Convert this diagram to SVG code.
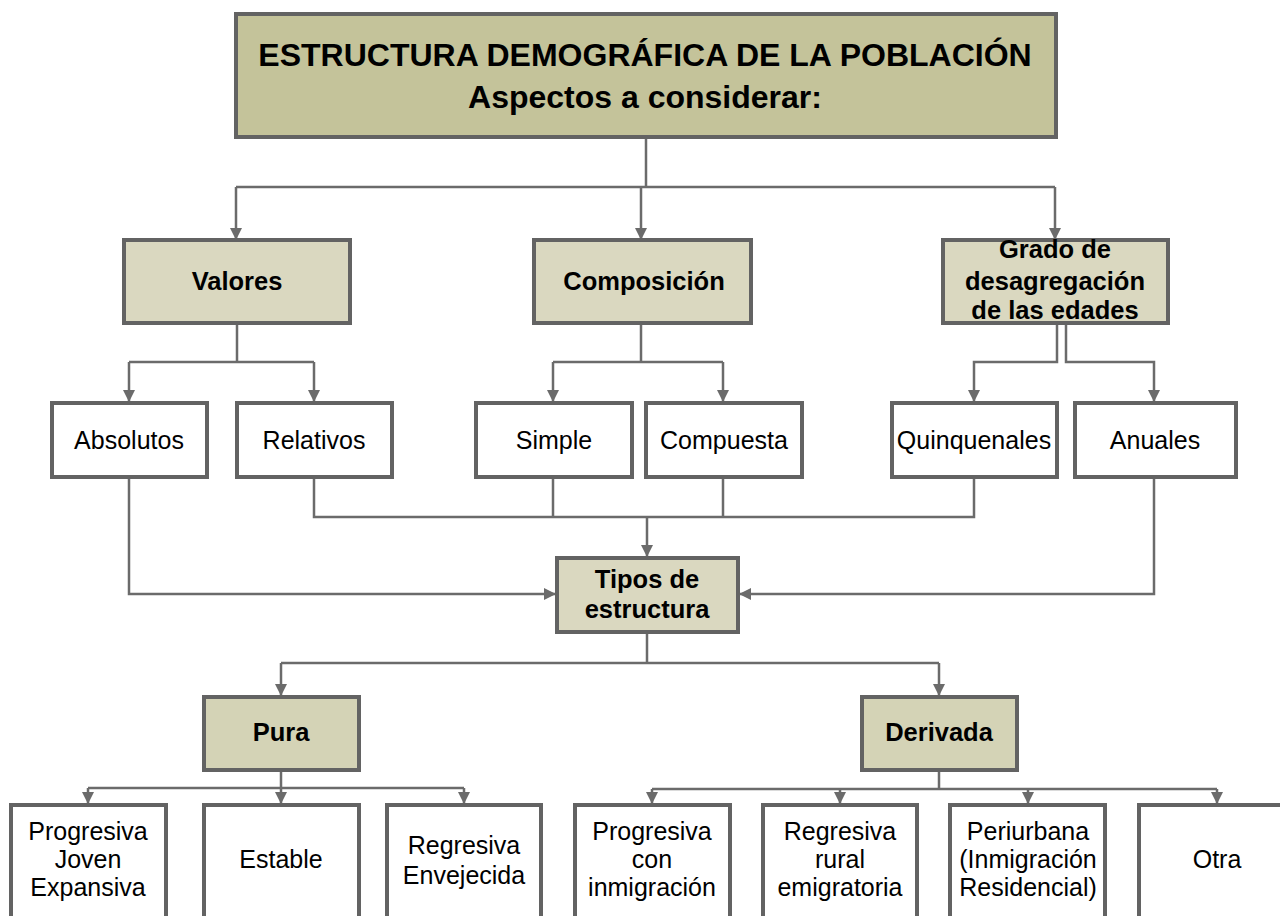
<svg xmlns="http://www.w3.org/2000/svg" width="1280" height="916" viewBox="0 0 1280 916">
<style>
  text { font-family: "Liberation Sans", Arial, sans-serif; fill: #000; text-anchor: middle; }
  .b { font-weight: bold; font-size: 25.5px; }
  .t { font-weight: bold; font-size: 32px; }
  .r { font-size: 25px; }
  .box { fill: #ffffff; stroke: #636363; stroke-width: 4; }
  .hdr { fill: #c4c39a; stroke: #636363; stroke-width: 4; }
  .lvl { fill: #dad8c0; stroke: #636363; stroke-width: 4; }
  .lvl2 { fill: #d4d3b6; stroke: #636363; stroke-width: 4; }
  .c { fill: none; stroke: #6b6b6b; stroke-width: 2.5; }
  .a { marker-end: url(#arr); }
</style>
<defs>
  <marker id="arr" markerUnits="userSpaceOnUse" markerWidth="12" markerHeight="12" refX="11" refY="6" orient="auto">
    <path d="M0,0 L12,6 L0,12 z" fill="#6b6b6b"/>
  </marker>
</defs>
<rect width="1280" height="916" fill="#ffffff"/>

<g id="connectors">
  <path class="c" d="M646,137 V187"/>
  <path class="c" d="M236,187 H1055"/>
  <path class="c a" d="M236,187 V239"/>
  <path class="c a" d="M641,187 V239"/>
  <path class="c a" d="M1055,187 V239"/>

  <path class="c" d="M237,323 V362"/>
  <path class="c a" d="M129,362 V401"/>
  <path class="c a" d="M314,362 V401"/>
  <path class="c" d="M129,362 H314"/>

  <path class="c" d="M641,323 V362"/>
  <path class="c" d="M553,362 H723"/>
  <path class="c a" d="M553,362 V401"/>
  <path class="c a" d="M723,362 V401"/>

  <path class="c a" d="M1057,323 V362 H974 V401"/>
  <path class="c a" d="M1066,323 V362 H1154 V401"/>

  <path class="c" d="M314,477 V517 H974 V477"/>
  <path class="c" d="M553,477 V517"/>
  <path class="c" d="M723,477 V517"/>
  <path class="c a" d="M647,517 V556"/>

  <path class="c a" d="M129,477 V594 H555"/>
  <path class="c a" d="M1154,477 V594 H740"/>

  <path class="c" d="M647,632 V663"/>
  <path class="c" d="M281,663 H939"/>
  <path class="c a" d="M281,663 V695"/>
  <path class="c a" d="M939,663 V695"/>

  <path class="c" d="M281,770 V788"/>
  <path class="c" d="M88,788 H464"/>
  <path class="c a" d="M88,788 V803"/>
  <path class="c a" d="M281,788 V803"/>
  <path class="c a" d="M464,788 V803"/>

  <path class="c" d="M939,770 V789"/>
  <path class="c" d="M652,789 H1217"/>
  <path class="c a" d="M652,789 V803"/>
  <path class="c a" d="M840,789 V803"/>
  <path class="c a" d="M1028,789 V803"/>
  <path class="c a" d="M1217,789 V803"/>
</g>

<g id="title">
  <rect class="hdr" x="236" y="14" width="820" height="123"/>
  <text class="t" x="645" y="66">ESTRUCTURA DEMOGRÁFICA DE LA POBLACIÓN</text>
  <text class="t" x="645" y="108">Aspectos a considerar:</text>
</g>

<g id="valores">
  <rect class="lvl" x="124" y="240" width="226" height="83"/>
  <text class="b" x="237" y="290">Valores</text>
</g>
<g id="composicion">
  <rect class="lvl" x="534" y="240" width="217" height="83"/>
  <text class="b" x="644" y="290">Composición</text>
</g>
<g id="grado">
  <rect class="lvl" x="943" y="240" width="225" height="83"/>
  <text class="b" x="1055" y="258">Grado de</text>
  <text class="b" x="1055" y="290">desagregación</text>
  <text class="b" x="1055" y="319">de las edades</text>
</g>

<g id="absolutos">
  <rect class="box" x="52" y="403" width="155" height="74"/>
  <text class="r" x="129" y="449">Absolutos</text>
</g>
<g id="relativos">
  <rect class="box" x="237" y="403" width="155" height="74"/>
  <text class="r" x="314" y="449">Relativos</text>
</g>
<g id="simple">
  <rect class="box" x="476" y="403" width="156" height="74"/>
  <text class="r" x="554" y="449">Simple</text>
</g>
<g id="compuesta">
  <rect class="box" x="646" y="403" width="156" height="74"/>
  <text class="r" x="724" y="449">Compuesta</text>
</g>
<g id="quinquenales">
  <rect class="box" x="892" y="403" width="165" height="74"/>
  <text class="r" x="974" y="449">Quinquenales</text>
</g>
<g id="anuales">
  <rect class="box" x="1075" y="403" width="161" height="74"/>
  <text class="r" x="1155" y="449">Anuales</text>
</g>

<g id="tipos">
  <rect class="lvl" x="557" y="558" width="181" height="74"/>
  <text class="b" x="647" y="588">Tipos de</text>
  <text class="b" x="647" y="618">estructura</text>
</g>

<g id="pura">
  <rect class="lvl2" x="204" y="697" width="155" height="73"/>
  <text class="b" x="281" y="741">Pura</text>
</g>
<g id="derivada">
  <rect class="lvl2" x="862" y="697" width="155" height="73"/>
  <text class="b" x="939" y="741">Derivada</text>
</g>

<g id="progresiva-joven">
  <rect class="box" x="11" y="805" width="155" height="125"/>
  <text class="r" x="88" y="840">Progresiva</text>
  <text class="r" x="88" y="868">Joven</text>
  <text class="r" x="88" y="896">Expansiva</text>
</g>
<g id="estable">
  <rect class="box" x="204" y="805" width="155" height="125"/>
  <text class="r" x="281" y="868">Estable</text>
</g>
<g id="regresiva-envejecida">
  <rect class="box" x="387" y="805" width="154" height="125"/>
  <text class="r" x="464" y="854">Regresiva</text>
  <text class="r" x="464" y="884">Envejecida</text>
</g>
<g id="progresiva-inmigracion">
  <rect class="box" x="575" y="805" width="155" height="125"/>
  <text class="r" x="652" y="840">Progresiva</text>
  <text class="r" x="652" y="868">con</text>
  <text class="r" x="652" y="896">inmigración</text>
</g>
<g id="regresiva-rural">
  <rect class="box" x="763" y="805" width="154" height="125"/>
  <text class="r" x="840" y="840">Regresiva</text>
  <text class="r" x="840" y="868">rural</text>
  <text class="r" x="840" y="896">emigratoria</text>
</g>
<g id="periurbana">
  <rect class="box" x="950" y="805" width="155" height="125"/>
  <text class="r" x="1028" y="840">Periurbana</text>
  <text class="r" x="1028" y="868">(Inmigración</text>
  <text class="r" x="1028" y="896">Residencial)</text>
</g>
<g id="otra">
  <rect class="box" x="1139" y="805" width="155" height="125"/>
  <text class="r" x="1217" y="868">Otra</text>
</g>
</svg>
